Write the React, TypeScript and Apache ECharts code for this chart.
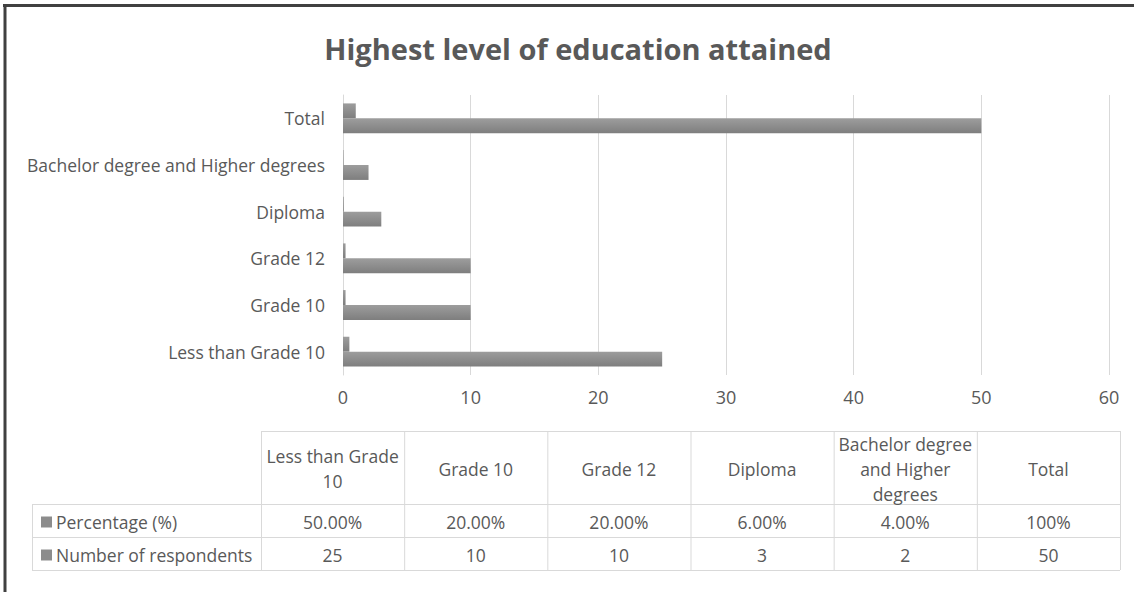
import React, { useEffect, useRef } from "react";
import * as echarts from "echarts";

const categories = [
  "Less than Grade 10",
  "Grade 10",
  "Grade 12",
  "Diploma",
  "Bachelor degree and Higher degrees",
  "Total",
];
const tableHeaders = [
  "Less than Grade\n10",
  "Grade 10",
  "Grade 12",
  "Diploma",
  "Bachelor degree\nand Higher\ndegrees",
  "Total",
];
const seriesNames = ["Percentage (%)", "Number of respondents"];
const percentageValues = [0.5, 0.2, 0.2, 0.06, 0.04, 1];
const percentageLabels = ["50.00%", "20.00%", "20.00%", "6.00%", "4.00%", "100%"];
const respondentValues = [25, 10, 10, 3, 2, 50];
const respondentLabels = respondentValues.map((v) => String(v));

const TEXT = "#595959";
const LINE = "#d9d9d9";
const FONT = "'Open Sans', sans-serif";

function barColor() {
  return new echarts.graphic.LinearGradient(0, 0, 0, 1, [
    { offset: 0, color: "#9d9d9d" },
    { offset: 1, color: "#7e7e7e" },
  ]);
}

function buildTable(): any[] {
  const els: any[] = [];
  const labelLeft = 32;
  const colLeft = 261;
  const colRight = 1120;
  const colW = (colRight - colLeft) / tableHeaders.length;
  const headTop = 431;
  const rowTops = [504, 537, 570];
  const hl = (x1: number, x2: number, y: number) =>
    els.push({ type: "line", silent: true, shape: { x1, y1: y + 0.5, x2, y2: y + 0.5 }, style: { stroke: LINE, lineWidth: 1 } });
  const vl = (x: number, y1: number, y2: number) =>
    els.push({ type: "line", silent: true, shape: { x1: x + 0.5, y1, x2: x + 0.5, y2 }, style: { stroke: LINE, lineWidth: 1 } });
  hl(colLeft, colRight, headTop);
  rowTops.forEach((y) => hl(labelLeft, colRight, y));
  vl(labelLeft, rowTops[0], rowTops[2]);
  for (let i = 0; i <= tableHeaders.length; i++) vl(colLeft + i * colW, headTop, rowTops[2]);
  const txt = (text: string, x: number, y: number, align = "center") =>
    els.push({
      type: "text",
      silent: true,
      x,
      y,
      style: { text, fill: TEXT, font: `17.5px ${FONT}`, textAlign: align, textVerticalAlign: "middle", lineHeight: 25 },
    });
  tableHeaders.forEach((h, i) => txt(h, colLeft + (i + 0.5) * colW, (headTop + rowTops[0]) / 2 + 1));
  const rows = [percentageLabels, respondentLabels];
  rows.forEach((row, r) => {
    const cy = (rowTops[r] + rowTops[r + 1]) / 2 + 1;
    els.push({ type: "rect", silent: true, shape: { x: 41, y: cy - 5, width: 11, height: 11 }, style: { fill: "#8c8c8c" } });
    txt(seriesNames[r], 56, cy, "left");
    row.forEach((v, i) => txt(v, colLeft + (i + 0.5) * colW, cy));
  });
  return els;
}

export default function App() {
  const ref = useRef<HTMLDivElement>(null);
  useEffect(() => {
    if (!ref.current) return;
    const chart = echarts.init(ref.current, null, { renderer: "svg" });
    chart.setOption({
      animation: false,
      backgroundColor: "#ffffff",
      grid: { left: 343, right: 25, top: 95, bottom: 217, containLabel: false },
      xAxis: {
        type: "value",
        min: 0,
        max: 60,
        interval: 10,
        axisLine: { show: false },
        axisTick: { show: false },
        splitLine: { lineStyle: { color: LINE, width: 1 } },
        axisLabel: { color: TEXT, fontSize: 18, fontFamily: FONT, margin: 13 },
      },
      yAxis: {
        type: "category",
        data: categories,
        axisLine: { show: true, lineStyle: { color: LINE } },
        axisTick: { show: false },
        axisLabel: { color: TEXT, fontSize: 17.5, fontFamily: FONT, margin: 18 },
      },
      series: [
        {
          name: seriesNames[0],
          type: "bar",
          data: percentageValues,
          barGap: "0%",
          barCategoryGap: "36%",
          itemStyle: { color: barColor() },
        },
        {
          name: seriesNames[1],
          type: "bar",
          data: respondentValues,
          barGap: "0%",
          barCategoryGap: "36%",
          itemStyle: { color: barColor() },
        },
      ],
      graphic: [
        {
          type: "text",
          silent: true,
          x: 578,
          y: 48,
          style: {
            text: "Highest level of education attained",
            fill: TEXT,
            font: `bold 29px ${FONT}`,
            textAlign: "center",
            textVerticalAlign: "middle",
          },
        },
        ...buildTable(),
        { type: "line", silent: true, shape: { x1: 3, y1: 5.5, x2: 1134, y2: 5.5 }, style: { stroke: "#404040", lineWidth: 3 } },
        { type: "line", silent: true, shape: { x1: 5, y1: 4, x2: 5, y2: 592 }, style: { stroke: "#404040", lineWidth: 3 } },
      ],
    });
    return () => chart.dispose();
  }, []);
  return (
    <div
      ref={ref}
      style={{ position: "absolute", left: 0, top: 0, width: 1134, height: 592, background: "#fff" }}
    />
  );
}
